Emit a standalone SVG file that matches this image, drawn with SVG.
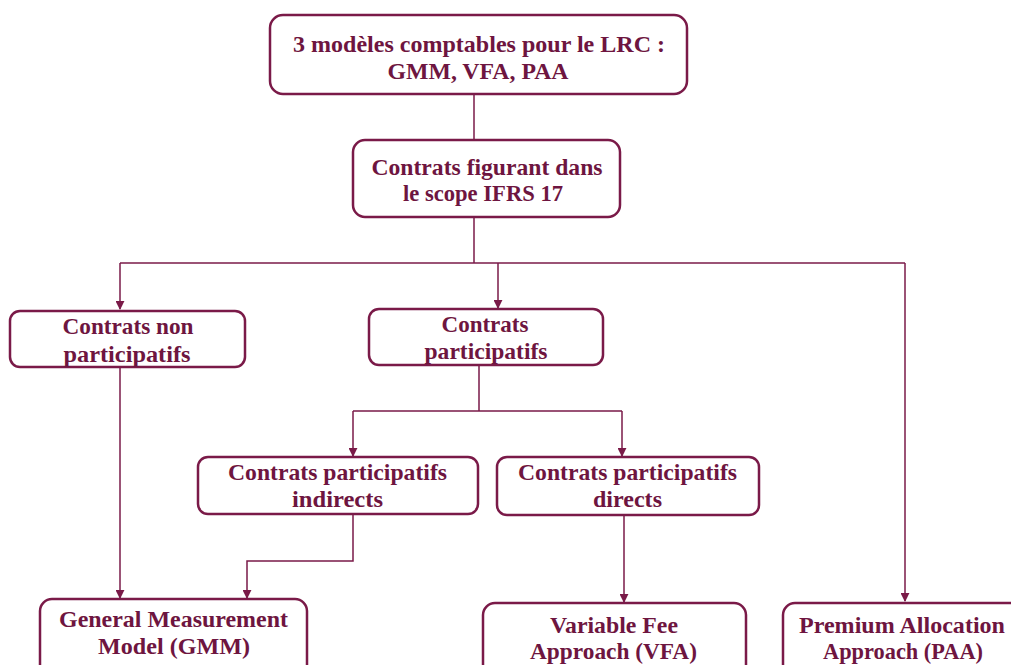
<svg xmlns="http://www.w3.org/2000/svg" width="1011" height="665" viewBox="0 0 1011 665">
  <defs>
    <marker id="arr" viewBox="0 0 10 10" refX="9" refY="5" markerWidth="9" markerHeight="9" markerUnits="userSpaceOnUse" orient="auto">
      <path d="M0,0 L10,5 L0,10 z" fill="#7a1a48"/>
    </marker>
    <style>
      .box { fill: #ffffff; stroke: #7a1a48; stroke-width: 2.5; }
      .lbl { font-family: "Liberation Serif", "DejaVu Serif", serif; font-weight: bold; font-size: 23px; fill: #6e1540; text-anchor: middle; }
      .edge { fill: none; stroke: #7a1a48; stroke-width: 1.5; }
      .arrow { marker-end: url(#arr); }
    </style>
  </defs>
  <rect width="1011" height="665" fill="#ffffff"/>

  <g id="connectors">
    <path class="edge" d="M474,94 V140"/>
    <path class="edge" d="M474,217 V263"/>
    <path class="edge" d="M120,263 H905"/>
    <path class="edge arrow" d="M120,263 V309"/>
    <path class="edge arrow" d="M498,263 V308"/>
    <path class="edge arrow" d="M905,263 V601"/>
    <path class="edge" d="M479,365 V411 M353,411 H622"/>
    <path class="edge arrow" d="M353,411 V456"/>
    <path class="edge arrow" d="M622,411 V456"/>
    <path class="edge arrow" d="M120,367 V598"/>
    <path class="edge arrow" d="M353,514 V561 H247 V598"/>
    <path class="edge arrow" d="M624,515 V602"/>
  </g>

  <g id="n-modeles">
    <rect class="box" x="270" y="15" width="417" height="79" rx="13"/>
    <text class="lbl" x="479" y="52" textLength="372" lengthAdjust="spacingAndGlyphs">3 modèles comptables pour le LRC :</text>
    <text class="lbl" x="478" y="79" textLength="181" lengthAdjust="spacingAndGlyphs">GMM, VFA, PAA</text>
  </g>

  <g id="n-scope">
    <rect class="box" x="353" y="140" width="267" height="77" rx="12"/>
    <text class="lbl" x="487" y="175" textLength="231" lengthAdjust="spacingAndGlyphs">Contrats figurant dans</text>
    <text class="lbl" x="483" y="201" textLength="160" lengthAdjust="spacingAndGlyphs">le scope IFRS 17</text>
  </g>

  <g id="n-non-part">
    <rect class="box" x="10" y="311" width="235" height="56" rx="10"/>
    <text class="lbl" x="128" y="334" textLength="131" lengthAdjust="spacingAndGlyphs">Contrats non</text>
    <text class="lbl" x="127" y="362" textLength="127" lengthAdjust="spacingAndGlyphs">participatifs</text>
  </g>

  <g id="n-part">
    <rect class="box" x="369" y="309" width="234" height="56" rx="10"/>
    <text class="lbl" x="485" y="332" textLength="87" lengthAdjust="spacingAndGlyphs">Contrats</text>
    <text class="lbl" x="486" y="359" textLength="123" lengthAdjust="spacingAndGlyphs">participatifs</text>
  </g>

  <g id="n-indirects">
    <rect class="box" x="198" y="457" width="280" height="57" rx="10"/>
    <text class="lbl" x="337.5" y="480" textLength="219" lengthAdjust="spacingAndGlyphs">Contrats participatifs</text>
    <text class="lbl" x="337.5" y="507" textLength="91" lengthAdjust="spacingAndGlyphs">indirects</text>
  </g>

  <g id="n-directs">
    <rect class="box" x="497" y="457" width="262" height="58" rx="10"/>
    <text class="lbl" x="627.5" y="480" textLength="219" lengthAdjust="spacingAndGlyphs">Contrats participatifs</text>
    <text class="lbl" x="627.5" y="507" textLength="69" lengthAdjust="spacingAndGlyphs">directs</text>
  </g>

  <g id="n-gmm">
    <rect class="box" x="40" y="599" width="267" height="80" rx="12"/>
    <text class="lbl" x="173.5" y="627" textLength="229" lengthAdjust="spacingAndGlyphs">General Measurement</text>
    <text class="lbl" x="174" y="654" textLength="152" lengthAdjust="spacingAndGlyphs">Model (GMM)</text>
  </g>

  <g id="n-vfa">
    <rect class="box" x="483" y="603" width="263" height="80" rx="12"/>
    <text class="lbl" x="614" y="633" textLength="128" lengthAdjust="spacingAndGlyphs">Variable Fee</text>
    <text class="lbl" x="613.5" y="659" textLength="167" lengthAdjust="spacingAndGlyphs">Approach (VFA)</text>
  </g>

  <g id="n-paa">
    <rect class="box" x="783" y="603" width="245" height="80" rx="12"/>
    <text class="lbl" x="902" y="633" textLength="206" lengthAdjust="spacingAndGlyphs">Premium Allocation</text>
    <text class="lbl" x="903" y="659" textLength="160" lengthAdjust="spacingAndGlyphs">Approach (PAA)</text>
  </g>
</svg>
